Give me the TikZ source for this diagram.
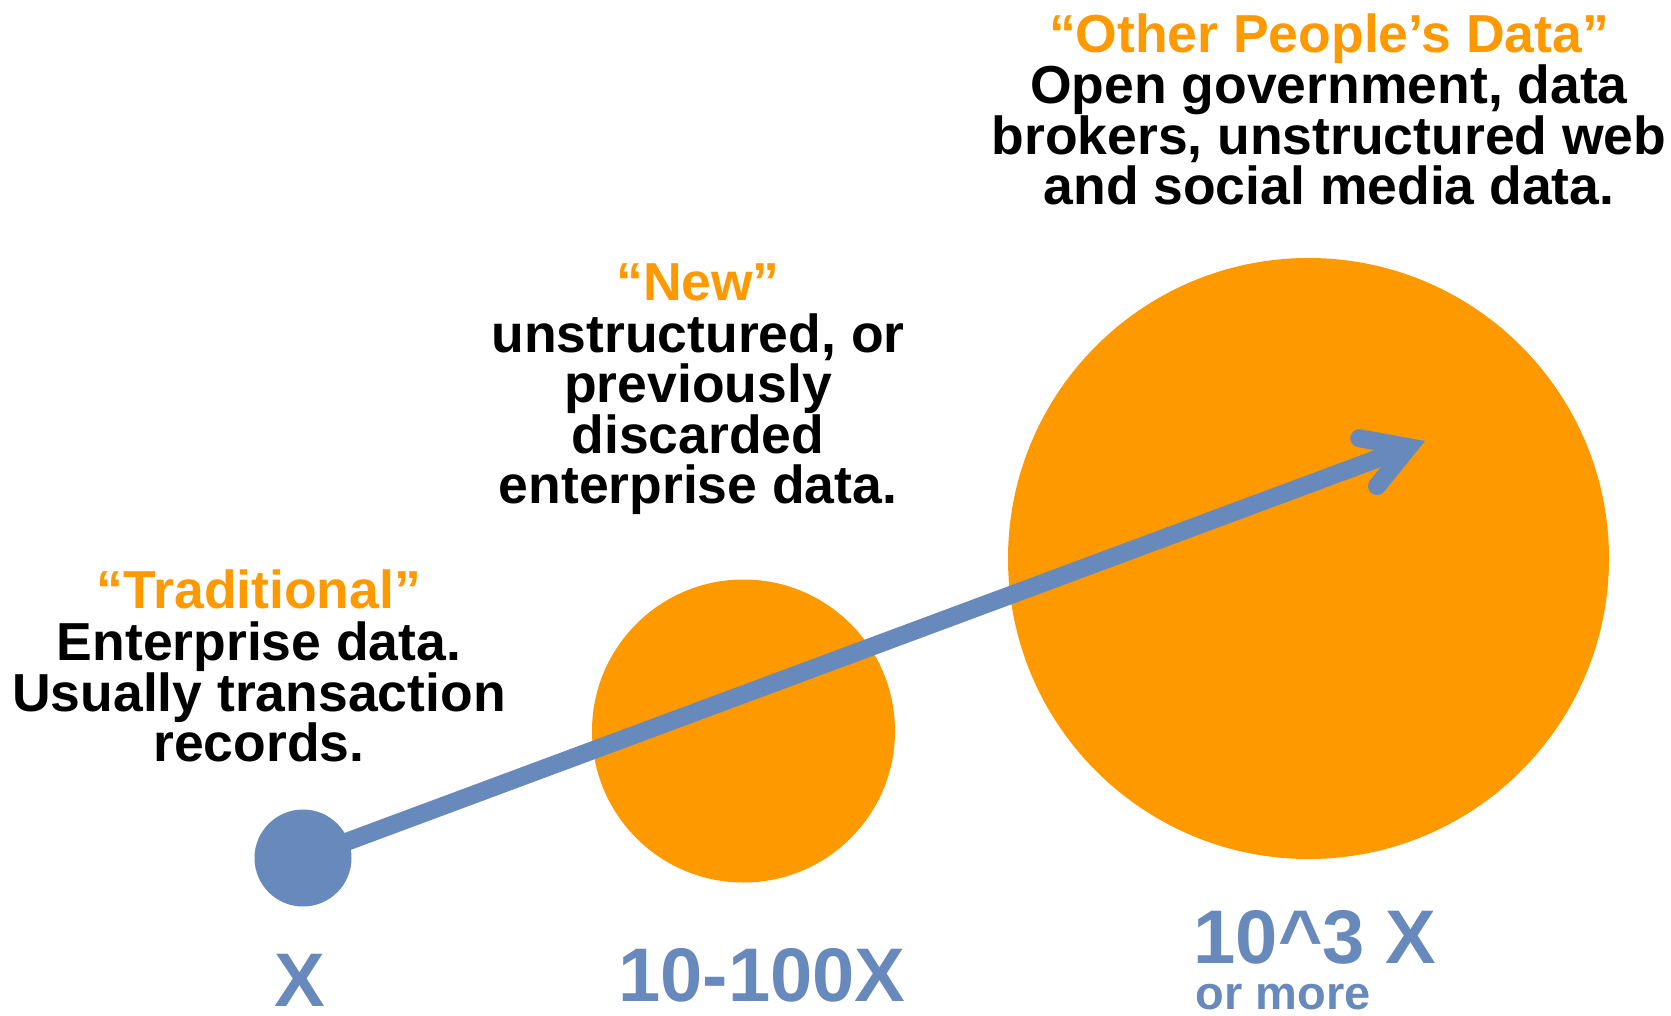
\documentclass[tikz,border=0pt]{standalone}
\usepackage{fontspec}
\setmainfont{Liberation Sans}[BoldFont={Liberation Sans Bold}]
\usepackage{tikz}
\usetikzlibrary{arrows.meta}
\setlength{\lineskiplimit}{-100pt}
\definecolor{dataorange}{HTML}{FF9900}
\definecolor{datablue}{HTML}{6789BB}
\tikzstyle{datacircle} = [circle, fill=dataorange, inner sep=0pt]
\tikzstyle{blurb} = [align=center, inner sep=0pt, anchor=north, font=\bfseries\fontsize{53.5}{50.5}\selectfont]
\tikzstyle{factor} = [text=datablue, inner sep=0pt, anchor=base, font=\bfseries\fontsize{76}{76}\selectfont]

\begin{document}
\begin{tikzpicture}[x=1pt, y=-1pt]
\useasboundingbox (0,0) rectangle (1671,1015);

% the three data sizes
\node [datacircle, minimum size=303pt] (newcircle) at (743.5,731) {};
\node [datacircle, minimum size=601pt] (othercircle) at (1308.5,558.5) {};
\node [circle, fill=datablue, inner sep=0pt, minimum size=97pt] (tradcircle) at (303,858) {};

\coordinate (tip) at (1425,441);
\draw [datablue, line width=18pt, -{Straight Barb[length=43pt, width=51pt, line cap=round, line join=miter]}] (tradcircle.center) -- (tip);

% texts
\node [blurb] (tradtext) at (259,569.5) {\textcolor{dataorange}{“Traditional”}\\[2pt]
    Enterprise data.\\ Usually transaction\\ records.};
\node [blurb] (newtext) at (698,263.5) {\textcolor{dataorange}{“New”}\\[1pt]
    unstructured, or\\ previously\\ discarded\\ enterprise data.};
\node [blurb] (othertext) at (1329,13.5) {\textcolor{dataorange}{“Other People’s Data”}\\[1pt]
    Open government, data\\ brokers, unstructured web\\ and social media data.};

% growth factors
\node [factor] (tradfactor) at (300,1006) {X};
\node [factor] (newfactor) at (762,1001) {10-100X};
\node [factor] (otherfactor) at (1315,963) {10\textasciicircum 3 X};
\node [factor, font=\bfseries\fontsize{47}{47}\selectfont] (moretext) at (1283,1009) {or more};
\end{tikzpicture}
\end{document}
